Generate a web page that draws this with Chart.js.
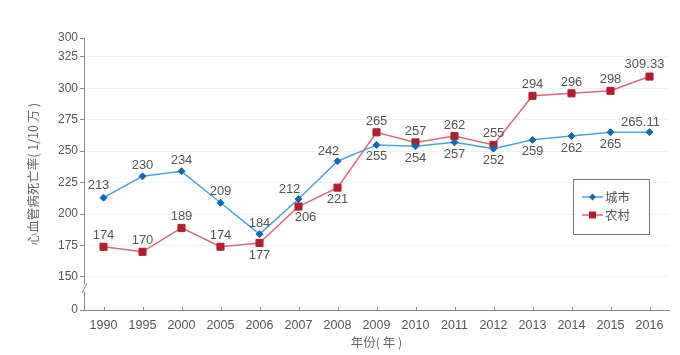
<!DOCTYPE html>
<html><head><meta charset="utf-8">
<script src="https://cdn.jsdelivr.net/npm/chart.js@4.4.1/dist/chart.umd.min.js"></script>
<style>html,body{margin:0;padding:0;background:#fff;}#wrap{width:680px;height:355px;position:relative;}</style>
</head><body><div id="wrap"><canvas id="c" width="680" height="355"></canvas></div>
<script>
// ---- data ----
const categories = ['1990','1995','2000','2005','2006','2007','2008','2009','2010','2011','2012','2013','2014','2015','2016'];
const urbanRates = [213,230,234,209,184,212,242,255,254,257,252,259,262,265,265.11];
const ruralRates = [174,170,189,174,177,206,221,265,257,262,255,294,296,298,309.33];
const urbanLabels = ['213','230','234','209','184','212','242','255','254','257','252','259','262','265','265.11'];
const ruralLabels = ['174','170','189','174','177','206','221','265','257','262','255','294','296','298','309.33'];
const urbanLabelSide = ['nnw','n','n','n','n','nw','nw','s','s','s','s','s','s','s','nw'];
const ruralLabelSide = ['n','n','n','n','s','se','s','n','n','n','n','n','n','n','nnw'];
const yTickValues = [150,175,200,225,250,275,300,325];
const yBottomLabel = '0';
const yTopLabel = '300';
const seriesNames = ['城市','农村'];
const yTitle = '心血管病死亡率( 1/10 万 )';
const xTitle = '年份( 年 )';
const yMin = 123.7, yMax = 340;

// ---- styles ----
const FONT = '"Liberation Sans", "Noto Sans CJK SC", Arial, sans-serif';
const CJK = '"Noto Sans CJK SC", "Liberation Sans", sans-serif';
const urbanLine = '#4da3d8', urbanMark = '#1666b0';
const ruralLine = '#d5697a', ruralMark = '#b01f30';
const sideOffsets = {n:[0,-11], s:[0,12], nw:[-9,-10], nnw:[-5,-12], se:[7,11]};

const decor = {
  id:'decor',
  afterDraw(chart){
    const ctx = chart.ctx, a = chart.chartArea;
    const xs = chart.scales.x;
    ctx.save();
    // inward x ticks
    ctx.strokeStyle = '#888'; ctx.lineWidth = 1;
    categories.forEach((c,i)=>{
      const x = Math.round(xs.getPixelForTick(i))+0.5;
      ctx.beginPath(); ctx.moveTo(x, a.bottom); ctx.lineTo(x, a.bottom-3); ctx.stroke();
    });
    // axis break
    const bx = Math.round(a.left)+0.5;
    const by = a.bottom - 22;
    ctx.fillStyle = '#fff';
    ctx.fillRect(bx-3, by-4, 6, 8);
    ctx.beginPath();
    ctx.moveTo(bx-2, by+5);
    ctx.bezierCurveTo(bx-2, by+1, bx+2, by-1, bx+2, by-5);
    ctx.stroke();
    // data labels
    const sets = [[urbanLabels, urbanLabelSide],[ruralLabels, ruralLabelSide]];
    ctx.font = '13px ' + FONT; ctx.fillStyle = '#555';
    ctx.textAlign = 'center'; ctx.textBaseline = 'middle';
    sets.forEach(([labels, sides], di)=>{
      const meta = chart.getDatasetMeta(di);
      meta.data.forEach((pt,i)=>{
        const o = sideOffsets[sides[i]];
        ctx.fillText(labels[i], pt.x + o[0], pt.y + o[1]);
      });
    });
    // legend
    const lx = 573.5, ly = 179.5, lw = 76, lh = 55;
    ctx.fillStyle = '#fff'; ctx.fillRect(lx, ly, lw, lh);
    ctx.strokeStyle = '#777'; ctx.lineWidth = 1; ctx.strokeRect(lx, ly, lw, lh);
    const items = [[seriesNames[0], urbanLine, urbanMark, 'rectRot'],[seriesNames[1], ruralLine, ruralMark, 'rect']];
    items.forEach((it,k)=>{
      const y = 197 + k*18;
      ctx.strokeStyle = it[1]; ctx.lineWidth = 1.5;
      ctx.beginPath(); ctx.moveTo(582, y); ctx.lineTo(603, y); ctx.stroke();
      ctx.fillStyle = it[2];
      ctx.beginPath();
      if (it[3]==='rect'){ ctx.rect(592.5-3.5, y-3.5, 7, 7); }
      else { ctx.moveTo(592.5, y-3.5); ctx.lineTo(596, y); ctx.lineTo(592.5, y+3.5); ctx.lineTo(589, y); ctx.closePath(); }
      ctx.fill();
      ctx.fillStyle = '#555'; ctx.font = '12.5px ' + CJK;
      ctx.textAlign = 'left'; ctx.textBaseline = 'middle';
      ctx.fillText(it[0], 605, y);
    });
    ctx.restore();
  }
};

new Chart(document.getElementById('c'), {
  type:'line',
  data:{
    labels: categories,
    datasets:[
      {label: seriesNames[0], data: urbanRates, borderColor: urbanLine, borderWidth:1.5,
       pointStyle:'rectRot', pointRadius:3.5, pointBackgroundColor: urbanMark, pointBorderColor: urbanMark, pointBorderWidth:1, tension:0},
      {label: seriesNames[1], data: ruralRates, borderColor: ruralLine, borderWidth:1.5,
       pointStyle:'rect', pointRadius:5, pointBackgroundColor: ruralMark, pointBorderColor: ruralMark, pointBorderWidth:1, tension:0}
    ]
  },
  options:{
    responsive:false, devicePixelRatio:1, animation:false,
    layout:{padding:{top:38, right:11, left:0, bottom:0}},
    plugins:{legend:{display:false}, tooltip:{enabled:false}},
    scales:{
      x:{
        type:'category', offset:true,
        grid:{display:false, drawTicks:false},
        border:{color:'#888', width:1},
        ticks:{padding:8, color:'#555', font:{size:12.5, family:FONT}, maxRotation:0, autoSkip:false},
        title:{display:true, text:xTitle, color:'#666', font:{size:12.5, family:CJK}, padding:{top:4, bottom:5}},
        afterFit: s => { s.height = 45; }
      },
      y:{
        type:'linear', min:yMin, max:yMax,
        afterBuildTicks: s => { s.ticks = [yMin, ...yTickValues, yMax].map(v=>({value:v})); },
        ticks:{padding:2, color:'#555', font:{size:12, family:FONT}, autoSkip:false,
          callback: v => v===yMin ? yBottomLabel : (v===yMax ? yTopLabel : String(v))},
        grid:{color: c => (c.tick && (c.tick.value===yMin || c.tick.value===yMax)) ? 'rgba(0,0,0,0)' : '#f1f1f1',
              tickColor:'#888', tickLength:4},
        border:{color:'#888', width:1},
        title:{display:true, text:yTitle, color:'#666', font:{size:12.5, family:CJK}, padding:{top:26, bottom:0}},
        afterFit: s => { s.width = 84; }
      }
    }
  },
  plugins:[decor]
});
</script></body></html>
